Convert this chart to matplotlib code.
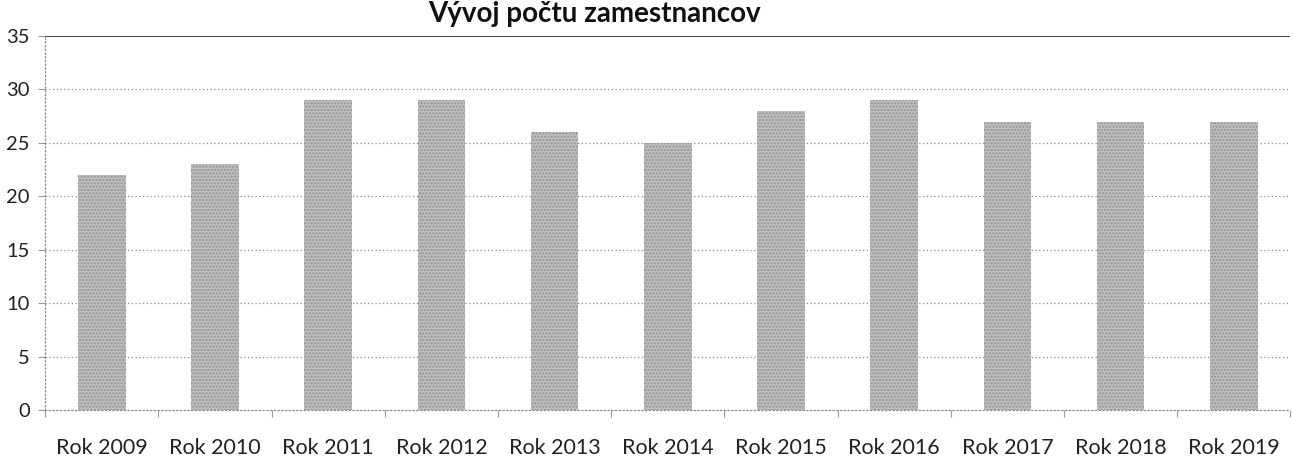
import matplotlib.pyplot as plt
import numpy as np

plt.rcParams['font.family'] = ['Lato', 'DejaVu Sans']

roky = ['Rok 2009', 'Rok 2010', 'Rok 2011', 'Rok 2012', 'Rok 2013', 'Rok 2014',
        'Rok 2015', 'Rok 2016', 'Rok 2017', 'Rok 2018', 'Rok 2019']
zamestnanci = [22, 23, 29, 29, 26, 25, 28, 29, 27, 27, 27]
y_ticks = [0, 5, 10, 15, 20, 25, 30, 35]


def main():
    fig = plt.figure(figsize=(12.93, 4.71), dpi=100)
    ax = fig.add_axes([0.035, 0.1295, 0.963, 0.794])

    x = np.arange(len(roky))
    ax.bar(x, zamestnanci, width=0.42, color='#bdbdbd', edgecolor='#939393',
           hatch='.....', linewidth=0, zorder=3)

    ax.set_xlim(-0.5, len(roky) - 0.5)
    ax.set_ylim(0, 35)
    ax.set_yticks(y_ticks)
    ax.set_xticks(x)
    ax.set_xticklabels(roky, fontsize=15.5, color='#222222')
    ax.set_xticks(np.arange(-0.5, len(roky), 1), minor=True)
    ax.tick_params(axis='x', which='major', length=0, pad=20)
    ax.tick_params(axis='x', which='minor', length=5, color='#999999', width=0.8)
    ax.tick_params(axis='y', length=5, color='#999999', width=0.8, labelsize=14.5,
                   labelcolor='#222222', pad=6)

    for v in y_ticks[1:-1]:
        ax.axhline(v, color='#8c8c8c', linestyle=(0, (1, 2)), linewidth=0.9, zorder=1)
    ax.axhline(35, color='#333333', linewidth=1.3, zorder=1)

    for s in ['top', 'right']:
        ax.spines[s].set_visible(False)
    for s in ['left', 'bottom']:
        ax.spines[s].set_color('#8c8c8c')
        ax.spines[s].set_linestyle((0, (1, 2)))
        ax.spines[s].set_linewidth(0.9)

    fig.text(0.46, 0.997, 'Vývoj počtu zamestnancov', ha='center', va='top',
             fontsize=20, fontweight='bold', color='#111111')

    fig.savefig('out.png', dpi=100)


if __name__ == "__main__":
    main()
